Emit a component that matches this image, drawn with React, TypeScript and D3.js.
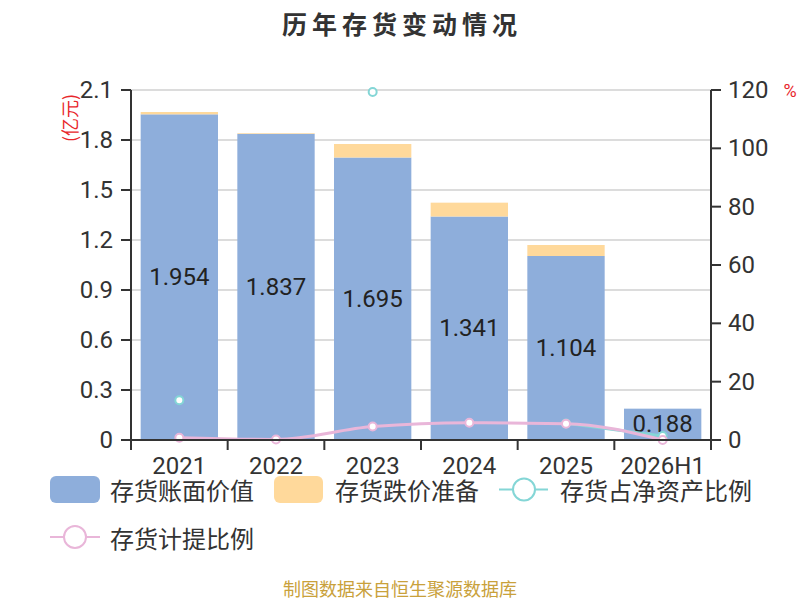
import React from 'react';
import * as d3 from 'd3';

const categories = ['2021', '2022', '2023', '2024', '2025', '2026H1'];
const bookValue = [1.954, 1.837, 1.695, 1.341, 1.104, 0.188];
const impairment = [0.014, 0.004, 0.081, 0.083, 0.066, 0];
const netAssetRatio: (number | null)[] = [13.6, null, 119.3, null, 5.7, 1.4];
const provisionRatio = [0.8, 0.2, 4.6, 5.9, 5.6, 0];
const leftTicks = [0, 0.3, 0.6, 0.9, 1.2, 1.5, 1.8, 2.1];
const rightTicks = [0, 20, 40, 60, 80, 100, 120];

const W = 800, H = 600;
const L = 131, R = 711, T = 90, B = 440;
const BLUE = '#8eaedb', ORANGE = '#ffd99b', TEAL = '#84d6d6', PINK = '#e9b6d9';
const FONT = 'Roboto, "Noto Sans CJK SC", sans-serif';
const CJK = '"Noto Sans CJK SC", sans-serif';

export default function App() {
  const x = d3.scaleBand<string>().domain(categories).range([L, R]).paddingInner(0.2).paddingOuter(0.1);
  const yL = d3.scaleLinear().domain([0, 2.1]).range([B, T]);
  const yR = d3.scaleLinear().domain([0, 120]).range([B, T]);
  const cx = (c: string) => (x(c) as number) + x.bandwidth() / 2;
  const step = x.step();

  const tealLine = d3.line<number | null>()
    .defined(d => d !== null)
    .x((_, i) => cx(categories[i]))
    .y(d => yR(d as number))
    .curve(d3.curveMonotoneX);
  const pinkLine = d3.line<number>()
    .x((_, i) => cx(categories[i]))
    .y(d => yR(d))
    .curve(d3.curveMonotoneX);

  return (
    <svg width={W} height={H} style={{ position: 'absolute', left: 0, top: 0, background: '#fff' }}>
      <text x={402} y={23} textAnchor="middle" dominantBaseline="central" fontFamily={CJK} fontWeight="bold" fontSize={25} letterSpacing={5} fill="#333">历年存货变动情况</text>

      {/* grid */}
      {leftTicks.map(t => (
        <line key={'g' + t} x1={L} x2={R} y1={yL(t)} y2={yL(t)} stroke="#d0d0d0" strokeWidth={1.5} />
      ))}

      {/* bars */}
      {categories.map((c, i) => (
        <g key={'b' + c}>
          <rect x={x(c)} y={yL(bookValue[i])} width={x.bandwidth()} height={B - yL(bookValue[i])} fill={BLUE} />
          {impairment[i] > 0 && (
            <rect x={x(c)} y={yL(bookValue[i] + impairment[i])} width={x.bandwidth()} height={yL(bookValue[i]) - yL(bookValue[i] + impairment[i])} fill={ORANGE} />
          )}
          <text x={cx(c)} y={(yL(bookValue[i]) + B) / 2} textAnchor="middle" dominantBaseline="central" fontFamily={FONT} fontSize={24} fill="#222">{bookValue[i].toFixed(3)}</text>
        </g>
      ))}

      {/* lines */}
      <path d={tealLine(netAssetRatio) || ''} fill="none" stroke={TEAL} strokeWidth={3} />
      {netAssetRatio.map((v, i) => v !== null && (
        <circle key={'tc' + i} cx={cx(categories[i])} cy={yR(v)} r={4} fill="#fff" stroke={TEAL} strokeWidth={2} />
      ))}
      <path d={pinkLine(provisionRatio) || ''} fill="none" stroke={PINK} strokeWidth={3} />
      {provisionRatio.map((v, i) => (
        <circle key={'pc' + i} cx={cx(categories[i])} cy={yR(v)} r={4} fill="#fff" stroke={PINK} strokeWidth={2} />
      ))}

      {/* axes */}
      <line x1={L} x2={L} y1={T} y2={B} stroke="#333" strokeWidth={2} />
      <line x1={R} x2={R} y1={T} y2={B} stroke="#333" strokeWidth={2} />
      <line x1={L} x2={R} y1={B} y2={B} stroke="#333" strokeWidth={2} />
      {leftTicks.map(t => (
        <g key={'lt' + t}>
          <line x1={L - 10} x2={L} y1={yL(t)} y2={yL(t)} stroke="#333" strokeWidth={2} />
          <text x={113} y={yL(t)} textAnchor="end" dominantBaseline="central" fontFamily={FONT} fontSize={24} fill="#333">{t === 0 ? '0' : t.toFixed(1)}</text>
        </g>
      ))}
      {rightTicks.map(t => (
        <g key={'rt' + t}>
          <line x1={R} x2={R + 10} y1={yR(t)} y2={yR(t)} stroke="#333" strokeWidth={2} />
          <text x={728} y={yR(t)} textAnchor="start" dominantBaseline="central" fontFamily={FONT} fontSize={24} fill="#333">{t}</text>
        </g>
      ))}
      {d3.range(categories.length + 1).map(i => (
        <line key={'xt' + i} x1={L + i * step} x2={L + i * step} y1={B} y2={B + 10} stroke="#333" strokeWidth={2} />
      ))}
      {categories.map(c => (
        <text key={'xl' + c} x={cx(c)} y={466} textAnchor="middle" dominantBaseline="central" fontFamily={FONT} fontSize={24} fill="#333">{c}</text>
      ))}

      <text transform="translate(69,118) rotate(-90)" textAnchor="middle" dominantBaseline="central" fontFamily={CJK} fontSize={18} fill="#e8262b">(亿元)</text>
      <text x={790} y={90} textAnchor="middle" dominantBaseline="central" fontFamily={FONT} fontSize={18} fill="#e8262b">%</text>

      {/* legend */}
      <rect x={50} y={476} width={50} height={27} rx={6} fill={BLUE} />
      <text x={110} y={489.5} dominantBaseline="central" fontFamily={CJK} fontSize={24} fill="#333">存货账面价值</text>
      <rect x={274} y={476} width={49} height={27} rx={6} fill={ORANGE} />
      <text x={335} y={489.5} dominantBaseline="central" fontFamily={CJK} fontSize={24} fill="#333">存货跌价准备</text>
      <line x1={499} x2={548} y1={489.5} y2={489.5} stroke={TEAL} strokeWidth={2} />
      <circle cx={524} cy={489.5} r={11} fill="#fff" stroke={TEAL} strokeWidth={2} />
      <text x={560} y={489.5} dominantBaseline="central" fontFamily={CJK} fontSize={24} fill="#333">存货占净资产比例</text>
      <line x1={50} x2={100} y1={537} y2={537} stroke={PINK} strokeWidth={2} />
      <circle cx={75} cy={537} r={11} fill="#fff" stroke={PINK} strokeWidth={2} />
      <text x={110} y={537} dominantBaseline="central" fontFamily={CJK} fontSize={24} fill="#333">存货计提比例</text>

      <text x={400} y={588} textAnchor="middle" dominantBaseline="central" fontFamily={CJK} fontSize={18} fill="#c9a13b">制图数据来自恒生聚源数据库</text>
    </svg>
  );
}
